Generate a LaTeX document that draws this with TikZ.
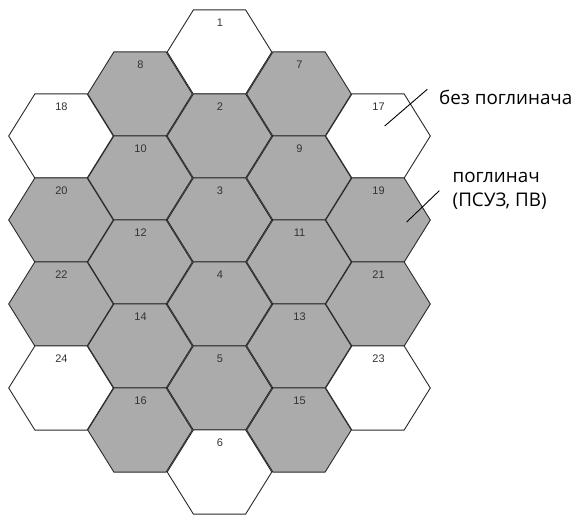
\documentclass[tikz,border=0pt]{standalone}
\usepackage{fontspec}
\setmainfont{Open Sans}
\newfontfamily\numfont{Liberation Sans}
\usepackage{tikz}
\usetikzlibrary{positioning, calc}

\definecolor{rodgray}{HTML}{ABABAB}
\definecolor{edgegray}{HTML}{2A2A2A}

\begin{document}
\begin{tikzpicture}[
        x=1pt, y=-1pt,
        hexcell/.style={draw=edgegray, line width=0.9pt, line join=miter},
        absorber/.style={hexcell, fill=rodgray},
        empty/.style={hexcell, fill=white},
        cellnum/.style={font=\numfont\fontsize{11}{13}\selectfont, text=black!80, inner sep=0pt},
        legend/.style={font=\fontsize{18.8}{24}\selectfont, align=left, inner sep=0pt},
        leader/.style={line width=0.9pt, draw=black}
    ]
        \useasboundingbox (0,0) rectangle (577,516);

        \foreach \num/\cx/\cy/\kind in {
            18/61/136/empty, 20/61/220/absorber, 22/61/304/absorber, 24/61/388/empty,
            8/140/94/absorber, 10/140/178/absorber, 12/140/262/absorber, 14/140/346/absorber, 16/140/430/absorber,
            1/219.5/52/empty, 2/219.5/136/absorber, 3/219.5/220/absorber, 4/219.5/304/absorber, 5/219.5/388/absorber, 6/219.5/472/empty,
            7/299/94/absorber, 9/299/178/absorber, 11/299/262/absorber, 13/299/346/absorber, 15/299/430/absorber,
            17/378/136/empty, 19/378/220/absorber, 21/378/304/absorber, 23/378/388/empty}
        {
            \draw[\kind] (\cx-52.3,\cy) -- (\cx-26.1,\cy-42.1) -- (\cx+26.1,\cy-42.1)
                -- (\cx+52.3,\cy) -- (\cx+26.1,\cy+42.1) -- (\cx-26.1,\cy+42.1) -- cycle;
            \node[cellnum] (n\num) at (\cx+0.5,\cy-29) {\num};
        }

        \node[legend, anchor=west] (without) at (439,97) {без поглинача};
        \node[legend, anchor=north west] (with) at (452.5,172) {поглинач\\(ПСУЗ, ПВ)};

        \coordinate (in17) at (384.7,126);
        \coordinate (out17) at (427.3,89.3);
        \coordinate (in19) at (406.7,222);
        \coordinate (out19) at (439.3,190.7);

        \draw[leader] (in17) -- (out17);
        \draw[leader] (in19) -- (out19);
\end{tikzpicture}
\end{document}
